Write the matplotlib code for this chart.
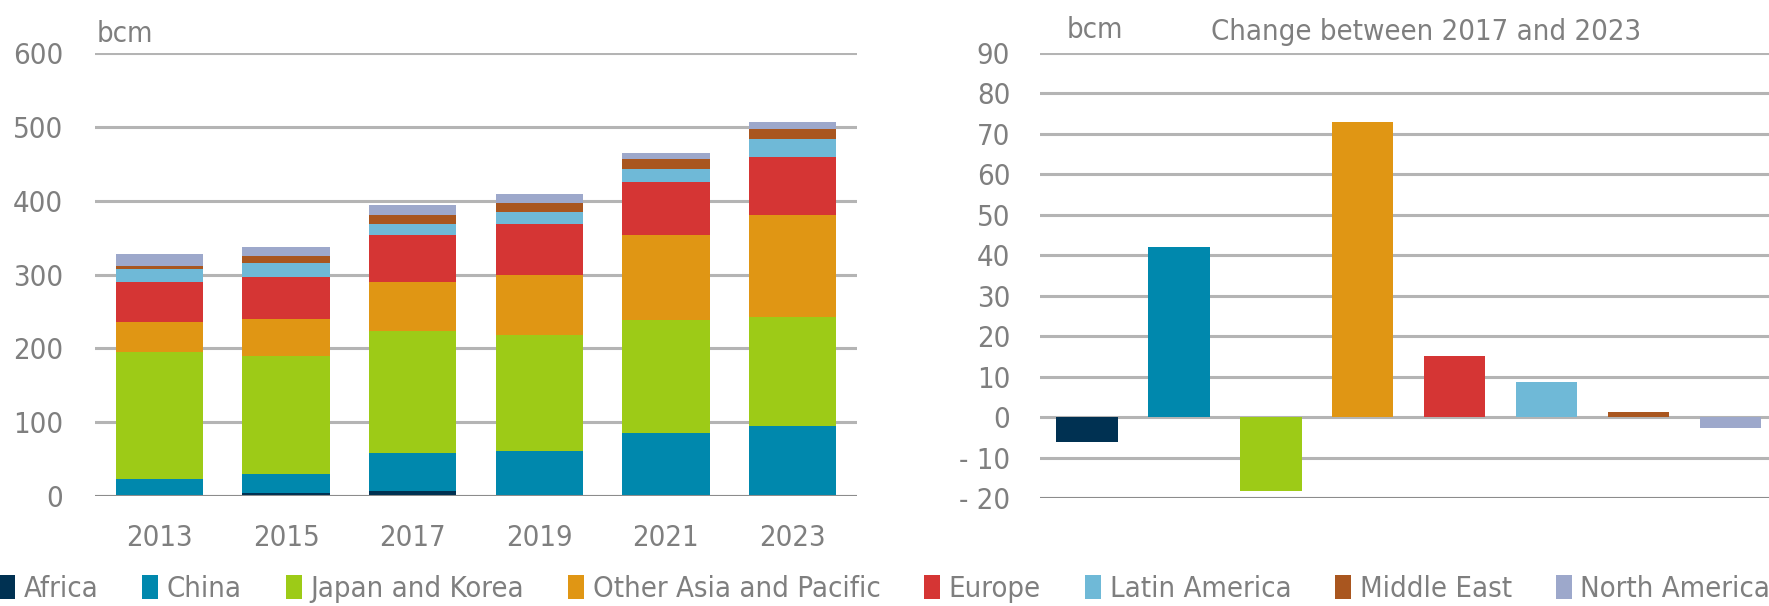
import numpy as np
import matplotlib
matplotlib.use('Agg')
import matplotlib.pyplot as plt
from matplotlib.ticker import FuncFormatter

plt.rcParams['font.family'] = ['DejaVu Sans']
plt.rcParams['font.stretch'] = 'condensed'

# data (bcm)
years = ['2013', '2015', '2017', '2019', '2021', '2023']
regions = ['Africa', 'China', 'Japan and Korea', 'Other Asia and Pacific',
           'Europe', 'Latin America', 'Middle East', 'North America']
africa = [0, 4, 7, 0, 0, 0]
china = [23.5, 26, 51, 61, 86, 95]
japan_korea = [172, 160, 166, 157, 153, 148]
other_asia = [40, 50, 66, 81, 114, 137]
europe = [54, 56, 63, 69, 72, 79]
latin_america = [18, 19, 15, 16, 18, 25]
middle_east = [4, 10, 13, 13, 13, 13]
north_america = [16, 12, 12.5, 12, 9, 9.5]
change_2017_2023 = [-6.2, 42, -18.2, 72.9, 15, 8.7, 1.2, -2.7]

colors = ['#003152', '#0088ad', '#9dcb17', '#e09614',
          '#d53534', '#6fb9d7', '#a9561f', '#9da8cb']
txt = '#7f7f7f'
grid = '#b4b4b4'
fs = 21

fig = plt.figure(figsize=(17.69, 6.06), dpi=100)
ax1 = fig.add_axes([95/1769, 1-496/606, (857-95)/1769, (496-53)/606])
ax2 = fig.add_axes([1040/1769, 1-498/606, (1769-1040)/1769, (498-53)/606])

# left: stacked bars
series = [africa, china, japan_korea, other_asia, europe, latin_america, middle_east, north_america]
x = np.arange(len(years))
bottom = np.zeros(len(years))
for name, vals, c in zip(regions, series, colors):
	ax1.bar(x, vals, 0.69, bottom=bottom, color=c, label=name, zorder=3)
	bottom += np.array(vals)
ax1.set_xlim(-0.51, 5.51)
ax1.set_ylim(0, 600)
ax1.set_yticks(range(0, 601, 100))
ax1.set_xticks(x)
ax1.set_xticklabels(years)

# right: change bars
xr = np.arange(len(regions))
ax2.bar(xr, change_2017_2023, 0.67, color=colors, zorder=3)
ax2.set_xlim(-0.51, 7.42)
ax2.set_ylim(-20, 90)
ax2.set_yticks(range(-20, 91, 10))
ax2.set_xticks([])
ax2.yaxis.set_major_formatter(FuncFormatter(lambda v, p: '- %d' % -v if v < 0 else '%d' % v))

for ax in (ax1, ax2):
	for s in ax.spines.values():
		s.set_visible(False)
	ax.yaxis.grid(True, color=grid, linewidth=2.2, zorder=0)
	ax.set_axisbelow(True)
	ax.tick_params(length=0, labelsize=fs, labelcolor=txt)
	ax.tick_params(axis='x', pad=20)
ax1.tick_params(axis='y', pad=23)
ax2.tick_params(axis='y', pad=21.5)
ax1.axhline(0, color='#8c8c8c', linewidth=2.2, zorder=4)
ax2.axhline(-20, color='#8c8c8c', linewidth=2.2, zorder=4)

fig.text(97/1769, 1-42/606, 'bcm', fontsize=fs, color=txt, va='baseline')
fig.text(1067/1769, 1-38/606, 'bcm', fontsize=fs, color=txt, va='baseline')
fig.text(1426/1769, 1-40/606, 'Change between 2017 and 2023', fontsize=fs, color=txt,
         ha='center', va='baseline')

handles, labels = ax1.get_legend_handles_labels()
fig.legend(handles, labels, loc='center', bbox_to_anchor=(0.5, 1-589/606), ncol=8,
           frameon=False, fontsize=fs, labelcolor=txt, handlelength=0.55, handleheight=0.9,
           handletextpad=0.3, columnspacing=1.5, borderaxespad=0)

fig.savefig('out.png', dpi=100)
